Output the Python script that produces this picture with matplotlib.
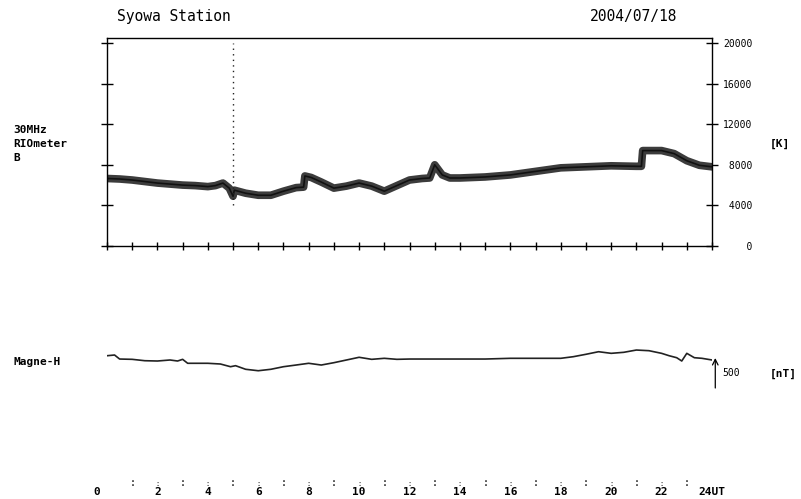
import matplotlib
matplotlib.use("Agg")
import matplotlib.pyplot as plt
from matplotlib.ticker import FixedLocator, FuncFormatter

# ---------------- data ----------------
rio_hours = [0, 0.5, 1, 1.5, 2, 2.5, 3, 3.5, 4, 4.3, 4.6, 4.85, 5.0, 5.05, 5.2, 5.5, 6, 6.5, 7, 7.5,
             7.8, 7.85, 8.1, 8.5, 9, 9.5, 10, 10.5, 11, 11.5, 12, 12.5, 12.8, 13.0, 13.3, 13.6, 14, 15,
             16, 17, 18, 19, 20, 21, 21.2, 21.25, 22, 22.5, 23, 23.5, 24]
rio_vals = [6650, 6600, 6500, 6350, 6200, 6100, 6000, 5950, 5850, 5950, 6200, 5700, 4900, 5500, 5400,
            5200, 5000, 5000, 5400, 5750, 5800, 6900, 6750, 6300, 5700, 5900, 6200, 5900, 5400, 5950,
            6500, 6650, 6700, 8000, 7000, 6700, 6700, 6800, 7000, 7350, 7700, 7800, 7900, 7850, 7850,
            9400, 9400, 9100, 8400, 7950, 7800]
spike_hours = [5.0, 5.0]
spike_vals = [4000, 20000]

mag_hours = [0, 0.3, 0.5, 1, 1.5, 2, 2.5, 2.8, 3.0, 3.2, 4, 4.5, 4.9, 5.1, 5.5, 6, 6.5, 7, 7.5, 8,
             8.5, 9, 9.5, 10, 10.5, 11, 11.5, 12, 13, 14, 15, 16, 17, 18, 18.5, 19, 19.5, 20, 20.5,
             21, 21.5, 22, 22.3, 22.6, 22.8, 23, 23.3, 23.6, 24]
mag_vals = [738, 750, 683, 678, 655, 650, 667, 650, 678, 612, 612, 600, 555, 572, 512, 488, 512, 555,
            583, 612, 583, 622, 667, 712, 678, 695, 678, 683, 683, 683, 683, 695, 695, 695, 722, 762,
            805, 778, 795, 833, 822, 778, 738, 705, 650, 778, 705, 695, 667]

rio_ticks = [0, 4000, 8000, 12000, 16000, 20000]
hour_labels = [0, 2, 4, 6, 8, 10, 12, 14, 16, 18, 20, 22]
scale_nT = 500

# ---------------- figure ----------------
W, H = 801, 499
fig = plt.figure(figsize=(W / 100, H / 100), dpi=100)
mono = "DejaVu Sans Mono"

def fx(px):
    return px / W

def fy(py):
    return 1 - py / H

x0, x1 = 107, 712

# Riometer panel
ax = fig.add_axes([fx(x0), fy(246), fx(x1 - x0), fy(38) - fy(246)])
ax.plot(rio_hours, rio_vals, color="#3c3c3c", lw=5.5, solid_joinstyle="round")
ax.plot(rio_hours, rio_vals, color="#111111", lw=1.2)
ax.plot(spike_hours, spike_vals, color="#222222", lw=1, linestyle=(0, (1, 3)))
ax.set_xlim(0, 24)
ax.set_ylim(0, 20490)
for s in ax.spines.values():
    s.set_linewidth(1.0)
ax.xaxis.set_major_locator(FixedLocator(range(0, 25)))
ax.tick_params(axis="x", direction="inout", length=6, width=1, labelbottom=False)
ax.yaxis.set_major_locator(FixedLocator(rio_ticks))
ax.tick_params(axis="y", which="both", direction="inout", length=8, width=1,
               left=True, right=True, labelleft=False, labelright=True, pad=4)
ax.yaxis.set_major_formatter(FuncFormatter(lambda v, p: f"{int(v):>5d}"))
for lab in ax.get_yticklabels():
    lab.set_fontfamily(mono)
    lab.set_fontsize(7)

# Magnetometer panel
axm = fig.add_axes([fx(x0), fy(400), fx(x1 - x0), fy(330) - fy(400)])
axm.plot(mag_hours, mag_vals, color="#222222", lw=1.2)
axm.set_xlim(0, 24)
axm.set_ylim(0, 1167)
axm.axis("off")
axm.annotate("", xy=(24.13, 200 + scale_nT), xytext=(24.13, 200),
             arrowprops=dict(arrowstyle="->", lw=0.9, color="black", shrinkA=0, shrinkB=0),
             annotation_clip=False)
axm.text(24.4, 450, str(scale_nT), fontfamily=mono, fontsize=7, ha="left", va="center")

# Time axis labels
axt = fig.add_axes([fx(x0), fy(499), fx(x1 - x0), fy(470) - fy(499)])
axt.set_xlim(0, 24)
axt.set_ylim(0, 1)
axt.axis("off")
for h in range(1, 24, 2):
    axt.text(h, 0.55, ":", fontfamily=mono, fontsize=7, ha="center", va="center")
for h in hour_labels:
    xpos = -0.4 if h == 0 else h
    if h != 0:
        axt.text(h, 0.5, ":", fontfamily=mono, fontsize=5, ha="center", va="center")
    axt.text(xpos, 0.24, str(h), fontfamily=mono, fontsize=8, fontweight="bold",
             ha="center", va="center")
axt.text(24, 0.24, "24UT", fontfamily=mono, fontsize=8, fontweight="bold", ha="center", va="center")

# Titles and labels
fig.text(fx(117), fy(17), "Syowa Station", fontfamily=mono, fontsize=10.5, ha="left", va="center")
fig.text(fx(590), fy(17), "2004/07/18", fontfamily=mono, fontsize=10.5, ha="left", va="center")
fig.text(fx(13), fy(144), "30MHz\nRIOmeter\nB", fontfamily=mono, fontsize=8, fontweight="bold",
         ha="left", va="center", linespacing=1.45)
fig.text(fx(770), fy(144), "[K]", fontfamily=mono, fontsize=8, fontweight="bold", ha="left", va="center")
fig.text(fx(13), fy(362), "Magne-H", fontfamily=mono, fontsize=8, fontweight="bold", ha="left", va="center")
fig.text(fx(770), fy(374), "[nT]", fontfamily=mono, fontsize=8, fontweight="bold", ha="left", va="center")

fig.savefig("out.png", dpi=100)
